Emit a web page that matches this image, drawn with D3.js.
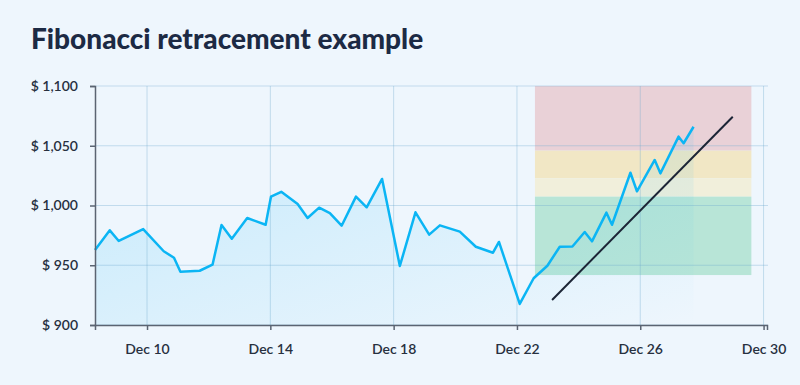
<!DOCTYPE html>
<html>
<head>
<meta charset="utf-8">
<script src="https://cdn.jsdelivr.net/npm/d3@7"></script>
<style>
  body { margin: 0; background: #eef6fd; }
  svg { display: block; font-family: Lato, "Noto Sans", sans-serif; }
</style>
</head>
<body>
<svg width="800" height="385"></svg>
<script>
// price series (Dec, local time)
var dates = ['12-08T07:30','12-08T19:00','12-09T02:00','12-09T21:00','12-10T13:00','12-10T21:00',
  '12-11T02:00','12-11T17:00','12-12T03:00','12-12T10:00','12-12T18:00','12-13T06:00',
  '12-13T20:20','12-14T00:30','12-14T08:30','12-14T21:15','12-15T05:00','12-15T14:00',
  '12-15T22:20','12-16T07:30','12-16T18:40','12-17T03:00','12-17T15:00','12-18T04:50',
  '12-18T17:00','12-19T03:40','12-19T12:00','12-20T03:30','12-20T16:00','12-21T05:20',
  '12-21T10:00','12-22T02:10','12-22T13:00','12-22T23:40','12-23T09:20','12-23T19:10',
  '12-24T04:45','12-24T10:25','12-24T21:40','12-25T02:00','12-25T16:20','12-25T21:25',
  '12-26T11:15','12-26T15:40','12-27T05:50','12-27T09:45','12-27T17:30'];
var prices = [962.8, 979.2, 970.3, 980.3, 961.7, 956.3,
  944.6, 945.4, 950.5, 983.7, 972.2, 989.5,
  983.9, 1007.4, 1011.5, 1001.3, 989.5, 998.2,
  993.7, 983.1, 1007.4, 998.5, 1022.2, 949.4,
  994.3, 975.6, 983.4, 978.1, 965.5, 960.5,
  969.5, 917.6, 939.1, 949.6, 965.5, 965.7,
  977.8, 970, 994, 983.9, 1027.4, 1011.9,
  1038.1, 1026.9, 1057.6, 1052.1, 1065.9];

// fibonacci zones
var fibLevels = [1100, 1045.9, 1022.8, 1007.4, 941.8];
var fibColors = ['#e9d1d7', '#f1e7c5', '#f1efdb', '#b8e5d7'];
var fibStart = '12-22T14:00', fibEnd = '12-29T14:30';

// trend line
var trendDates = ['12-23T03:20', '12-29T00:00'];
var trendValues = [920.9, 1074.3];

var xDomain = ['12-08T07:30', '12-30T02:40'];
var xTicks = ['12-10T00:00','12-14T00:00','12-18T00:00','12-22T00:00','12-26T00:00','12-30T00:00'];
var yTicks = [900, 950, 1000, 1050, 1100];

var parse = d3.timeParse('%Y-%m-%dT%H:%M');
function toDate(s) { return parse('2023-' + s); }

var data = dates.map(function(d, i) { return { date: toDate(d), value: prices[i] }; });

var svg = d3.select('svg');
var mLeft = 95, mRight = 767, mTop = 86, mBottom = 325;

var x = d3.scaleTime().domain(xDomain.map(toDate)).range([mLeft, mRight]);
var y = d3.scaleLinear().domain([900, 1100]).range([mBottom, mTop]);

svg.append('text')
    .attr('x', 31)
    .attr('y', 49)
    .attr('font-size', 28)
    .attr('font-weight', 900)
    .attr('fill', '#1c2a44')
    .text('Fibonacci retracement example');

// gradient for area
var defs = svg.append('defs');
var grad = defs.append('linearGradient')
    .attr('id', 'areaGrad')
    .attr('x1', 0).attr('y1', 0).attr('x2', 1).attr('y2', 1);
grad.append('stop').attr('offset', '0%').attr('stop-color', '#20b8f4').attr('stop-opacity', 0.2);
grad.append('stop').attr('offset', '100%').attr('stop-color', '#20b8f4').attr('stop-opacity', 0.0);

// fib zones
svg.append('g').selectAll('rect')
    .data(fibColors)
    .enter()
    .append('rect')
    .attr('x', x(toDate(fibStart)))
    .attr('width', x(toDate(fibEnd)) - x(toDate(fibStart)))
    .attr('y', function(d, i) { return y(fibLevels[i]); })
    .attr('height', function(d, i) { return y(fibLevels[i + 1]) - y(fibLevels[i]); })
    .attr('fill', function(d) { return d; });

// area
svg.append('path')
    .datum(data)
    .attr('fill', 'url(#areaGrad)')
    .attr('d', d3.area()
        .x(function(d) { return x(d.date); })
        .y0(mBottom)
        .y1(function(d) { return y(d.value); }));

// grid
svg.append('g')
    .selectAll('line')
    .data(yTicks)
    .enter()
    .append('line')
    .attr('x1', mLeft).attr('x2', mRight + 1)
    .attr('y1', function(d) { return y(d); })
    .attr('y2', function(d) { return y(d); })
    .attr('stroke', 'rgba(110,170,205,0.35)');

svg.append('g')
    .selectAll('line')
    .data(xTicks)
    .enter()
    .append('line')
    .attr('x1', function(d) { return x(toDate(d)); })
    .attr('x2', function(d) { return x(toDate(d)); })
    .attr('y1', mTop).attr('y2', mBottom)
    .attr('stroke', 'rgba(110,170,205,0.35)');

// price line
svg.append('path')
    .datum(data)
    .attr('fill', 'none')
    .attr('stroke', '#0bb5f4')
    .attr('stroke-width', 2.5)
    .attr('stroke-linejoin', 'round')
    .attr('d', d3.line()
        .x(function(d) { return x(d.date); })
        .y(function(d) { return y(d.value); }));

// trend line
svg.append('line')
    .attr('x1', x(toDate(trendDates[0]))).attr('y1', y(trendValues[0]))
    .attr('x2', x(toDate(trendDates[1]))).attr('y2', y(trendValues[1]))
    .attr('stroke', '#1c2536')
    .attr('stroke-width', 2);

// axes
var xAxis = svg.append('g')
    .attr('transform', 'translate(0,' + mBottom + ')')
    .call(d3.axisBottom(x)
        .tickValues(xTicks.map(toDate))
        .tickFormat(d3.timeFormat('Dec %-d'))
        .tickSize(5)
        .tickPadding(14));

var yAxis = svg.append('g')
    .attr('transform', 'translate(' + mLeft + ',0)')
    .call(d3.axisLeft(y)
        .tickValues(yTicks)
        .tickFormat(function(d) { return '$ ' + d3.format(',')(d); })
        .tickSize(5)
        .tickPadding(12));

[xAxis, yAxis].forEach(function(a) {
    a.select('.domain').attr('stroke', '#5b6472').attr('stroke-width', 1.5);
    a.selectAll('.tick line').attr('stroke', '#5b6472').attr('stroke-width', 1.5);
    a.selectAll('text')
        .attr('font-family', 'Lato, "Noto Sans", sans-serif')
        .attr('font-size', 14)
        .attr('font-weight', 600)
        .attr('fill', '#27303f');
});
</script>
</body>
</html>
